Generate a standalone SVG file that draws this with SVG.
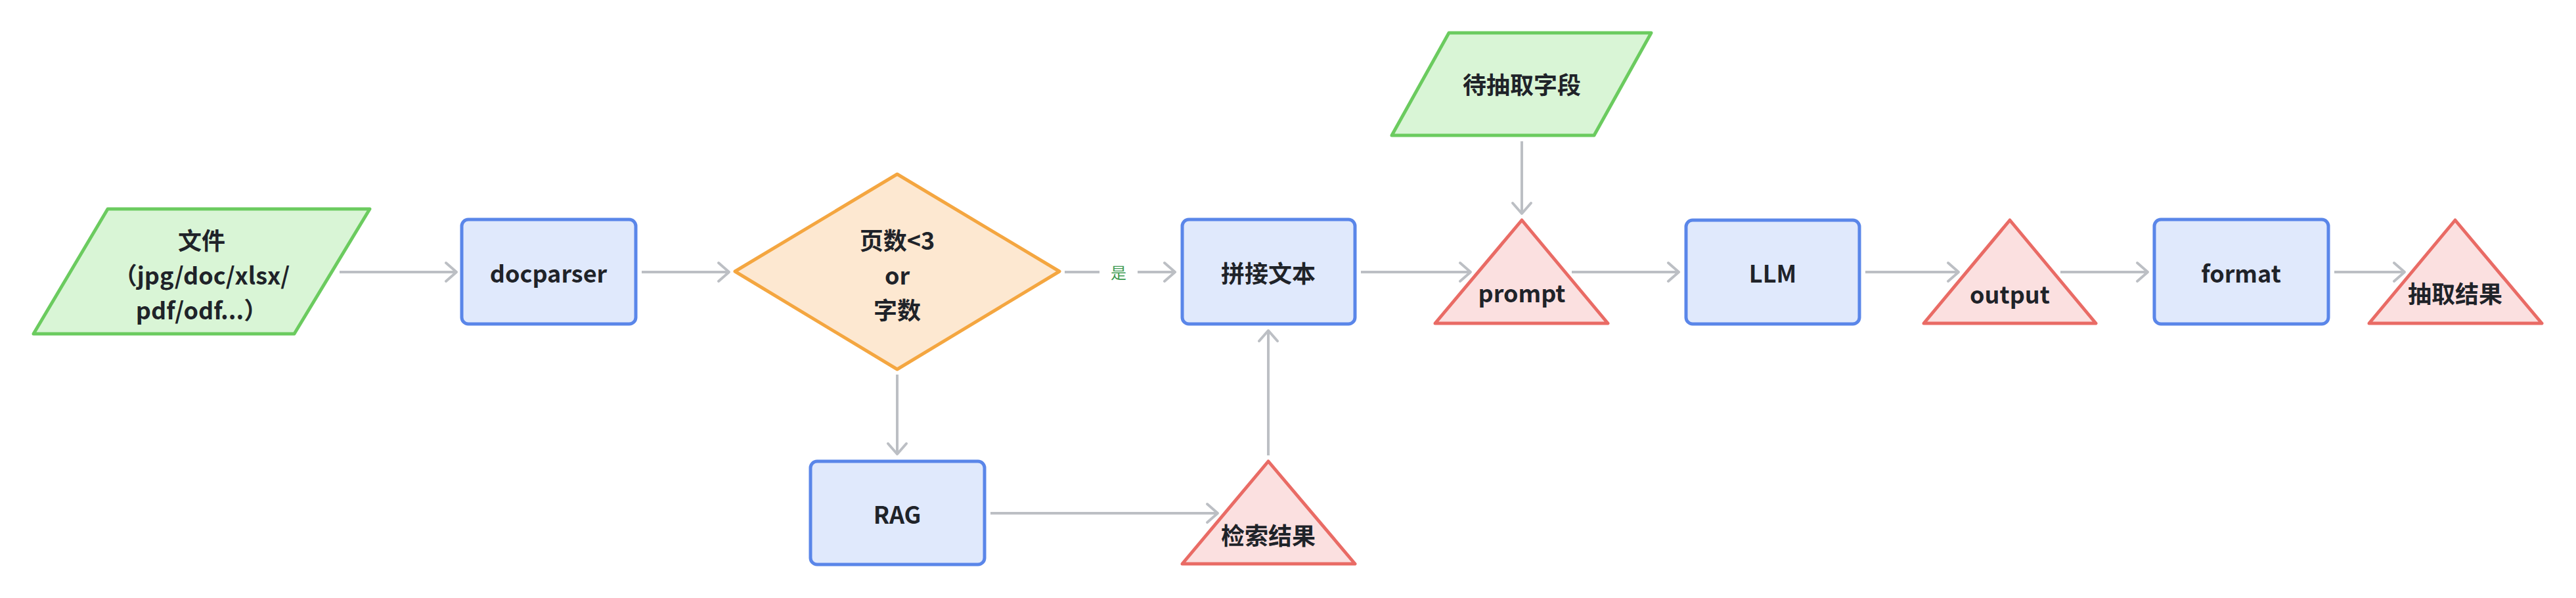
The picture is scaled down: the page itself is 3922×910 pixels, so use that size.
<svg xmlns="http://www.w3.org/2000/svg" width="3922" height="910" viewBox="0 0 3922 910">
<style>
.txt{font-family:"Noto Sans CJK SC","Noto Sans",sans-serif;font-size:36px;font-weight:700;fill:#1f2329;text-anchor:middle}
.lbl{font-family:"Noto Sans CJK SC","Noto Sans",sans-serif;font-size:24px;font-weight:400;fill:#3d9a50;text-anchor:middle}
.io{fill:#d9f5d6;stroke:#6bcb5f;stroke-width:5;stroke-linejoin:round}
.proc{fill:#e0e9fc;stroke:#5a86e9;stroke-width:5}
.dec{fill:#fde8d1;stroke:#f4a640;stroke-width:5;stroke-linejoin:round}
.tri{fill:#fbe0e0;stroke:#e96b65;stroke-width:5;stroke-linejoin:round}
.edge{fill:none;stroke:#bcbfc4;stroke-width:4;marker-end:url(#arr)}
</style>
<defs>
<marker id="arr" markerUnits="userSpaceOnUse" viewBox="-20 -18 24 36" markerWidth="24" markerHeight="36" refX="0" refY="0" orient="auto">
<path d="M-16,-14 L0,0 L-16,14" fill="none" stroke="#bcbfc4" stroke-width="4" stroke-linecap="round" stroke-linejoin="round"/>
</marker>
</defs>
<rect width="3922" height="910" fill="#ffffff"/>
<g id="connectors">
<path class="edge" d="M517,414 L695,414"/>
<path class="edge" d="M977,414 L1110,414"/>
<path class="edge" d="M1621,414 L1789,414"/>
<path class="edge" d="M1366,570 L1366,691"/>
<path class="edge" d="M1508,781 L1854,781"/>
<path class="edge" d="M1931,693 L1931,503"/>
<path class="edge" d="M2072,414 L2239,414"/>
<path class="edge" d="M2317,215 L2317,325"/>
<path class="edge" d="M2393,414 L2556,414"/>
<path class="edge" d="M2840,414 L2982,414"/>
<path class="edge" d="M3137,414 L3270,414"/>
<path class="edge" d="M3554,414 L3661,414"/>
<g id="label-yes">
<rect x="1674" y="396" width="58" height="36" fill="#ffffff"/>
<text class="lbl" x="1703" y="424">是</text>
</g>
</g>
<g id="n-file">
<polygon class="io" points="164,318 563,318 448,508 51,508"/>
<text class="txt" x="307" y="380">文件</text>
<text class="txt" x="307" y="433">（jpg/doc/xlsx/</text>
<text class="txt" x="307" y="486">pdf/odf...）</text>
</g>
<g id="n-docparser">
<rect class="proc" x="703" y="334" width="265" height="159" rx="10"/>
<text class="txt" x="835" y="430">docparser</text>
</g>
<g id="n-decision">
<polygon class="dec" points="1366,265 1613,413 1366,562 1119,413"/>
<text class="txt" x="1366" y="380">页数&lt;3</text>
<text class="txt" x="1366" y="433">or</text>
<text class="txt" x="1366" y="486">字数</text>
</g>
<g id="n-rag">
<rect class="proc" x="1234" y="702" width="265" height="157" rx="10"/>
<text class="txt" x="1366" y="797">RAG</text>
</g>
<g id="n-concat">
<rect class="proc" x="1800" y="334" width="263" height="159" rx="10"/>
<text class="txt" x="1931" y="430">拼接文本</text>
</g>
<g id="n-search">
<polygon class="tri" points="1931,702 2063,858 1800,858"/>
<text class="txt" x="1931" y="829">检索结果</text>
</g>
<g id="n-fields">
<polygon class="io" points="2206,50 2514,50 2427,206 2119,206"/>
<text class="txt" x="2317" y="143">待抽取字段</text>
</g>
<g id="n-prompt">
<polygon class="tri" points="2317,335 2448,492 2185,492"/>
<text class="txt" x="2317" y="460">prompt</text>
</g>
<g id="n-llm">
<rect class="proc" x="2567" y="335" width="264" height="158" rx="10"/>
<text class="txt" x="2699" y="430">LLM</text>
</g>
<g id="n-output">
<polygon class="tri" points="3060,335 3191,492 2929,492"/>
<text class="txt" x="3060" y="462">output</text>
</g>
<g id="n-format">
<rect class="proc" x="3280" y="334" width="265" height="159" rx="10"/>
<text class="txt" x="3412" y="430">format</text>
</g>
<g id="n-result">
<polygon class="tri" points="3738,335 3870,492 3607,492"/>
<text class="txt" x="3738" y="461">抽取结果</text>
</g>
</svg>
